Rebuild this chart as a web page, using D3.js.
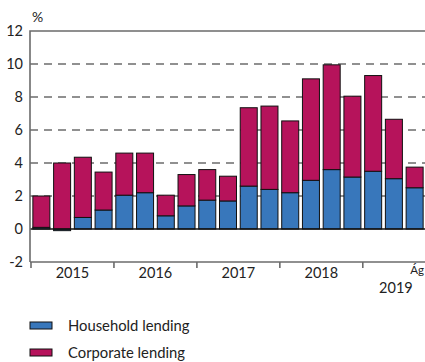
<!DOCTYPE html>
<html>
<head>
<meta charset="utf-8">
<script src="https://cdn.jsdelivr.net/npm/d3@7"></script>
<style>
    body { margin: 0; background: #fff; }
    svg text { font-family: Lato, "Open Sans", sans-serif; fill: #222; }
</style>
</head>
<body>
<svg id="gfx" width="425" height="362"></svg>
<script>
// quarters 2015Q1 .. 2019Q3 (Aug)
const quarters = ["2015Q1", "2015Q2", "2015Q3", "2015Q4",
    "2016Q1", "2016Q2", "2016Q3", "2016Q4",
    "2017Q1", "2017Q2", "2017Q3", "2017Q4",
    "2018Q1", "2018Q2", "2018Q3", "2018Q4",
    "2019Q1", "2019Q2", "2019Q3"];
const household = [0.1, -0.1, 0.7, 1.15, 2.05, 2.2, 0.8, 1.4, 1.75, 1.7,
    2.6, 2.4, 2.2, 2.95, 3.6, 3.15, 3.5, 3.05, 2.5];
const corporate = [1.9, 4.0, 3.65, 2.3, 2.55, 2.4, 1.25, 1.9, 1.85, 1.5,
    4.75, 5.05, 4.35, 6.15, 6.35, 4.9, 5.8, 3.6, 1.25];
const yTicks = [-2, 0, 2, 4, 6, 8, 10, 12];
const yearLabels = ["2015", "2016", "2017", "2018"];
const seriesNames = ["Household lending", "Corporate lending"];
const colors = ["#3877bb", "#b6135b"];

const svg = d3.select("#gfx");
const m = { left: 30, right: 425, top: 31, bottom: 262 };

const x = d3.scaleBand().domain(quarters).range([m.left + 1, m.right]).paddingInner(0.18).paddingOuter(0.09);
const y = d3.scaleLinear().domain([-2, 12]).range([m.bottom, m.top]);

const rows = quarters.map((q, i) => ({ q: q, household: household[i], corporate: corporate[i] }));
const stack = d3.stack().keys(["household", "corporate"]).offset(d3.stackOffsetDiverging);
const layers = stack(rows);

// dashed grid
svg.append("g").selectAll("line")
    .data(yTicks.filter(d => d > 0 && d < 12))
    .join("line")
    .attr("x1", m.left).attr("x2", m.right)
    .attr("y1", d => y(d)).attr("y2", d => y(d))
    .attr("stroke", "#222").attr("stroke-width", 1.2)
    .attr("stroke-dasharray", "8,6");

// bars
svg.append("g").selectAll("g")
    .data(layers)
    .join("g")
    .attr("fill", (d, i) => colors[i])
    .selectAll("rect")
    .data(d => d)
    .join("rect")
    .attr("x", d => x(d.data.q))
    .attr("width", x.bandwidth())
    .attr("y", d => y(Math.max(d[0], d[1])))
    .attr("height", d => Math.abs(y(d[0]) - y(d[1])))
    .attr("stroke", "#111").attr("stroke-width", 1);

// zero line
svg.append("line")
    .attr("x1", m.left).attr("x2", m.right)
    .attr("y1", y(0)).attr("y2", y(0))
    .attr("stroke", "#111").attr("stroke-width", 1.3);

// frame: left, top, bottom
const axisColor = "#6b6b6b";
svg.append("path")
    .attr("d", `M${m.left},${m.bottom}V${m.top}H${m.right}`)
    .attr("fill", "none").attr("stroke", axisColor).attr("stroke-width", 1.6);
svg.append("line")
    .attr("x1", m.left).attr("x2", m.right)
    .attr("y1", m.bottom).attr("y2", m.bottom)
    .attr("stroke", axisColor).attr("stroke-width", 1.6);

// y tick labels
svg.append("g").selectAll("text")
    .data(yTicks)
    .join("text")
    .attr("x", m.left - 7)
    .attr("y", d => y(d))
    .attr("dy", "0.36em")
    .attr("text-anchor", "end")
    .attr("font-size", 14.5)
    .text(d => d);

svg.append("text")
    .attr("x", 32).attr("y", 22)
    .attr("font-size", 14)
    .text("%");

// year ticks at start of each year
const yearStarts = quarters.filter(q => q.endsWith("Q1"));
svg.append("g").selectAll("line")
    .data(yearStarts)
    .join("line")
    .attr("x1", q => x(q) - x.step() * x.paddingInner() / 2)
    .attr("x2", q => x(q) - x.step() * x.paddingInner() / 2)
    .attr("y1", m.bottom).attr("y2", m.bottom + 6)
    .attr("stroke", axisColor).attr("stroke-width", 1.6);

svg.append("g").selectAll("text")
    .data(yearLabels)
    .join("text")
    .attr("x", d => (x(d + "Q2") + x(d + "Q3") + x.bandwidth()) / 2)
    .attr("y", m.bottom + 16)
    .attr("text-anchor", "middle")
    .attr("font-size", 14.5)
    .text(d => d);

svg.append("text")
    .attr("x", m.right - 1).attr("y", m.bottom + 12)
    .attr("text-anchor", "end")
    .attr("font-size", 11.5)
    .text("Ág");
svg.append("text")
    .attr("x", x("2019Q2") + x.bandwidth() / 2 + 2).attr("y", m.bottom + 31)
    .attr("text-anchor", "middle")
    .attr("font-size", 14.5)
    .text("2019");

// legend
const legend = svg.append("g").selectAll("g")
    .data(seriesNames)
    .join("g")
    .attr("transform", (d, i) => `translate(30,${322 + i * 27})`);
legend.append("rect")
    .attr("width", 22).attr("height", 7)
    .attr("fill", (d, i) => colors[i])
    .attr("stroke", "#111").attr("stroke-width", 1);
legend.append("text")
    .attr("x", 38).attr("y", 4)
    .attr("dy", "0.36em")
    .attr("font-size", 14.8)
    .text(d => d);
</script>
</body>
</html>
